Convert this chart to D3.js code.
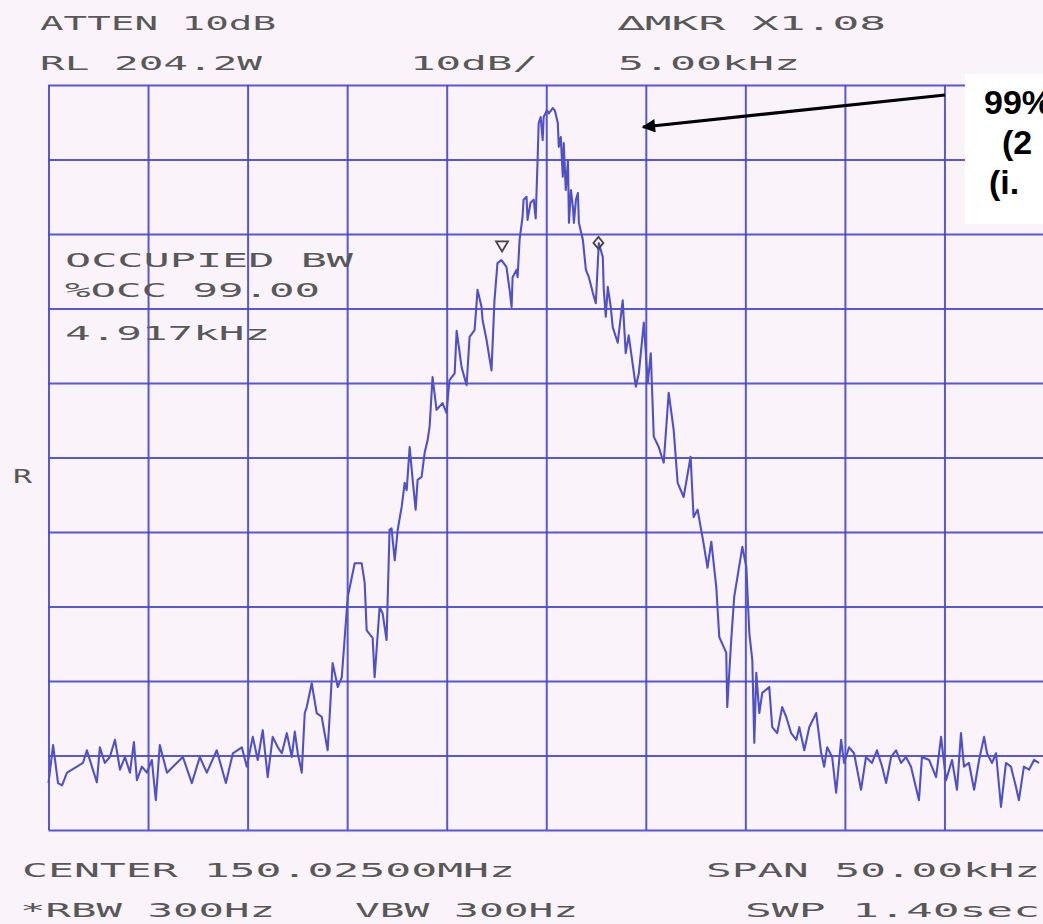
<!DOCTYPE html>
<html>
<head>
<meta charset="utf-8">
<script src="https://cdn.jsdelivr.net/npm/d3@7"></script>
<style>
  html, body { margin: 0; padding: 0; background: #faf3fa; overflow: hidden; }
  svg { display: block; }
  .hp { font-family: "DejaVu Sans Mono", monospace; fill: #585858; font-size: 20px; }
  .note { font-family: "Liberation Sans", Arial, sans-serif; font-weight: bold; font-size: 34px; fill: #000; }
</style>
</head>
<body>
<div id="chart"></div>
<script>
// spectrum analyser screen, span 50 kHz, 10 dB/div
const freqTicks = [-25, -20, -15, -10, -5, 0, 5, 10, 15, 20, 25];   // kHz offset from centre
const levelTicks = [-100, -90, -80, -70, -60, -50, -40, -30, -20, -10, 0]; // dB below RL

// trace: [kHz offset, dB rel. RL]
const trace = [
  [-25.0, -93.7], [-24.77, -88.6], [-24.52, -93.7], [-24.32, -94.0], [-24.07, -92.3],
  [-23.57, -91.5], [-23.27, -91.0], [-23.07, -89.3], [-22.82, -91.5], [-22.57, -93.6],
  [-22.42, -88.9], [-22.17, -91.0], [-21.92, -90.2], [-21.66, -87.9], [-21.41, -91.9],
  [-21.16, -90.2], [-20.91, -92.3], [-20.71, -88.2], [-20.56, -93.3], [-20.31, -91.5],
  [-20.06, -92.3], [-19.81, -90.6], [-19.61, -96.0], [-19.41, -88.6], [-19.05, -92.3],
  [-18.75, -91.5], [-18.25, -90.2], [-17.80, -93.7], [-17.40, -90.2], [-17.05, -92.3],
  [-16.55, -89.3], [-16.09, -93.7], [-15.74, -89.7], [-15.29, -88.9], [-15.04, -91.5],
  [-14.74, -87.5], [-14.49, -90.6], [-14.24, -86.6], [-13.99, -92.9], [-13.74, -87.5],
  [-13.48, -88.9], [-13.28, -89.7], [-13.03, -87.0], [-12.78, -90.2], [-12.63, -86.8],
  [-12.48, -89.7], [-12.28, -92.3], [-12.13, -84.3], [-12.03, -83.5], [-11.78, -80.3],
  [-11.53, -84.3], [-11.28, -84.8], [-10.98, -89.3], [-10.88, -84.8], [-10.73, -77.6],
  [-10.47, -80.8], [-10.27, -79.5], [-9.97, -68.7], [-9.62, -64.2], [-9.27, -64.2],
  [-9.12, -66.8], [-9.02, -73.2], [-8.72, -74.2], [-8.62, -79.5], [-8.37, -70.1],
  [-8.22, -70.9], [-8.02, -74.5], [-7.87, -59.7], [-7.77, -59.5], [-7.61, -63.8],
  [-7.46, -59.7], [-7.26, -56.6], [-7.11, -53.4], [-7.01, -54.4], [-6.86, -48.6],
  [-6.71, -53.0], [-6.56, -57.0], [-6.46, -53.0], [-6.26, -52.6], [-6.11, -49.4],
  [-5.96, -47.7], [-5.86, -45.9], [-5.71, -39.2], [-5.51, -43.6], [-5.21, -42.7],
  [-5.01, -44.0], [-4.86, -39.6], [-4.60, -38.7], [-4.50, -33.0], [-4.25, -37.9],
  [-4.00, -40.3], [-3.85, -33.8], [-3.60, -32.9], [-3.45, -27.5], [-3.25, -29.8],
  [-3.20, -31.5], [-3.00, -34.2], [-2.75, -38.3], [-2.60, -28.9], [-2.45, -23.9],
  [-2.25, -23.5], [-2.00, -24.4], [-1.84, -27.5], [-1.74, -29.8], [-1.69, -25.8],
  [-1.49, -24.8], [-1.44, -25.8], [-1.34, -20.8], [-1.19, -17.7], [-1.14, -15.4],
  [-0.99, -15.0], [-0.94, -18.1], [-0.79, -15.8], [-0.63, -15.4], [-0.53, -17.9],
  [-0.43, -9.7], [-0.38, -5.1], [-0.28, -4.3], [-0.18, -7.4], [-0.13, -4.3],
  [0.03, -3.4], [0.13, -3.8], [0.33, -3.1], [0.43, -3.4], [0.58, -5.1],
  [0.63, -8.3], [0.73, -7.0], [0.83, -12.3], [0.88, -7.8], [0.98, -14.1],
  [1.09, -10.1], [1.14, -18.5], [1.24, -14.1], [1.34, -16.4], [1.39, -18.5],
  [1.49, -15.4], [1.59, -14.5], [1.64, -18.5], [1.84, -20.8], [1.99, -24.8],
  [2.14, -25.8], [2.34, -27.9], [2.49, -29.3], [2.64, -21.2], [2.84, -23.1],
  [2.89, -27.5], [2.99, -31.1], [3.09, -27.1], [3.24, -29.8], [3.34, -32.5],
  [3.59, -34.6], [3.84, -28.9], [3.99, -36.0], [4.14, -33.6], [4.50, -40.5],
  [4.65, -38.7], [4.90, -31.9], [5.10, -40.0], [5.25, -36.0], [5.40, -47.2],
  [5.65, -48.6], [5.90, -50.7], [6.15, -41.3], [6.40, -46.3], [6.60, -53.4],
  [6.90, -55.3], [7.25, -49.9], [7.40, -58.0], [7.60, -57.0], [7.90, -61.5],
  [8.10, -64.8], [8.29, -61.3], [8.54, -67.4], [8.69, -74.1], [9.04, -76.2],
  [9.09, -83.5], [9.29, -74.5], [9.44, -68.7], [9.85, -62.0], [10.05, -64.7],
  [10.20, -73.6], [10.35, -77.2], [10.45, -88.3], [10.55, -78.9], [10.70, -84.3],
  [10.85, -81.6], [11.20, -80.8], [11.35, -86.2], [11.60, -87.0], [11.85, -83.5],
  [12.05, -84.8], [12.30, -87.0], [12.56, -87.9], [12.71, -86.2], [12.96, -89.3],
  [13.21, -86.2], [13.56, -84.3], [13.81, -89.7], [13.96, -91.5], [14.11, -88.9],
  [14.36, -90.2], [14.56, -95.0], [14.81, -87.9], [14.96, -91.0], [15.21, -88.9],
  [15.46, -89.7], [15.81, -94.6], [16.06, -90.2], [16.36, -91.0], [16.61, -89.3],
  [16.87, -91.5], [17.07, -93.7], [17.32, -90.2], [17.57, -89.3], [17.82, -91.0],
  [18.07, -90.2], [18.32, -91.5], [18.72, -96.0], [18.87, -90.2], [19.23, -90.6],
  [19.58, -92.9], [19.83, -87.5], [20.08, -93.3], [20.38, -90.6], [20.63, -94.6],
  [20.83, -87.0], [20.98, -91.5], [21.23, -91.0], [21.49, -94.6], [21.74, -90.6],
  [21.99, -87.5], [22.14, -89.7], [22.39, -91.0], [22.59, -89.7], [22.84, -96.9],
  [23.09, -91.0], [23.34, -91.5], [23.59, -94.2], [23.74, -96.0], [23.99, -91.5],
  [24.25, -91.9], [24.50, -90.6], [24.75, -91.0]
];

// occupied-bandwidth markers (kHz offset, level, symbol)
const markers = [
  { f: -2.22, db: -22.2, shape: 'tri' },
  { f: 2.62, db: -21.2, shape: 'diamond' }
];

// analyser annotations: [text, x, baseline y, width]
const hpLabels = [
  ['ATTEN 10dB', 40, 30, 236],
  ['RL 204.2W', 40, 70, 222],
  ['10dB/', 410, 70, 128],
  ['\u2206MKR X1.08', 618, 30, 268],
  ['5.00kHz', 618, 70, 182],
  ['OCCUPIED BW', 65, 267, 288],
  ['%OCC 99.00', 65, 297, 255],
  ['4.917kHz', 65, 340, 205],
  ['R', 13, 483, 19],
  ['CENTER 150.02500MHz', 22, 877, 493],
  ['SPAN 50.00kHz', 706, 877, 334],
  ['*RBW 300Hz', 20, 917, 255],
  ['VBW 300Hz', 355, 917, 223],
  ['SWP 1.40sec', 745, 917, 295]
];

const noteLines = ['99%', '(2', '(i.'];

const W = 1043, H = 924;
const svg = d3.select('#chart').append('svg')
  .attr('width', W)
  .attr('height', H);

const x = d3.scaleLinear().domain([-25, 25]).range([48.5, 1044]);
const y = d3.scaleLinear().domain([-100, 0]).range([830, 85]);

const gridColor = '#4646cf';

// graticule
const gx = svg.append('g')
  .attr('transform', `translate(0,${y(-100)})`)
  .call(d3.axisBottom(x).tickValues(freqTicks).tickSize(-(y(-100) - y(0))).tickFormat('').tickSizeOuter(0));
const gy = svg.append('g')
  .attr('transform', `translate(${x(-25)},0)`)
  .call(d3.axisLeft(y).tickValues(levelTicks).tickSize(-(x(25) - x(-25))).tickFormat('').tickSizeOuter(0));
[gx, gy].forEach(g => {
  g.select('.domain').remove();
  g.selectAll('line').attr('stroke', gridColor).attr('stroke-width', 2).attr('opacity', 0.9);
});

// trace
const line = d3.line()
  .x(d => x(d[0]))
  .y(d => y(d[1]));

svg.append('path')
  .datum(trace)
  .attr('d', line)
  .attr('fill', 'none')
  .attr('stroke', '#5151c6')
  .attr('stroke-width', 2.1)
  .attr('stroke-linejoin', 'round');

// markers
markers.forEach(m => {
  const mx = x(m.f), my = y(m.db);
  if (m.shape === 'tri') {
    svg.append('path')
      .attr('d', `M${mx - 6},${my - 9} L${mx + 6},${my - 9} L${mx},${my + 1} Z`)
      .attr('fill', 'none').attr('stroke', '#444').attr('stroke-width', 1.8);
  } else {
    svg.append('path')
      .attr('d', `M${mx},${my - 6} L${mx + 5},${my} L${mx},${my + 6} L${mx - 5},${my} Z`)
      .attr('fill', 'none').attr('stroke', '#444').attr('stroke-width', 1.8);
  }
});

// analyser text
svg.selectAll('text.hp')
  .data(hpLabels)
  .enter().append('text')
  .attr('class', 'hp')
  .attr('x', d => d[1])
  .attr('y', d => d[2])
  .attr('textLength', d => d[3])
  .attr('lengthAdjust', 'spacingAndGlyphs')
  .text(d => d[0]);

// callout box + arrow
svg.append('rect')
  .attr('x', 965).attr('y', 74)
  .attr('width', 90).attr('height', 150)
  .attr('fill', '#fff');

svg.selectAll('text.note')
  .data(noteLines)
  .enter().append('text')
  .attr('class', 'note')
  .attr('x', (d, i) => [984, 1002, 989][i])
  .attr('y', (d, i) => 114 + i * 40)
  .text(d => d);

svg.append('defs').append('marker')
  .attr('id', 'head')
  .attr('viewBox', '0 0 10 10')
  .attr('refX', 9).attr('refY', 5)
  .attr('markerWidth', 7).attr('markerHeight', 4.2)
  .attr('markerUnits', 'strokeWidth')
  .attr('orient', 'auto')
  .append('path')
  .attr('d', 'M0,0 L10,5 L0,10 Z')
  .attr('fill', '#000');

svg.append('line')
  .attr('x1', 945).attr('y1', 95)
  .attr('x2', 643).attr('y2', 127)
  .attr('stroke', '#000')
  .attr('stroke-width', 3.2)
  .attr('marker-end', 'url(#head)');
</script>
</body>
</html>
